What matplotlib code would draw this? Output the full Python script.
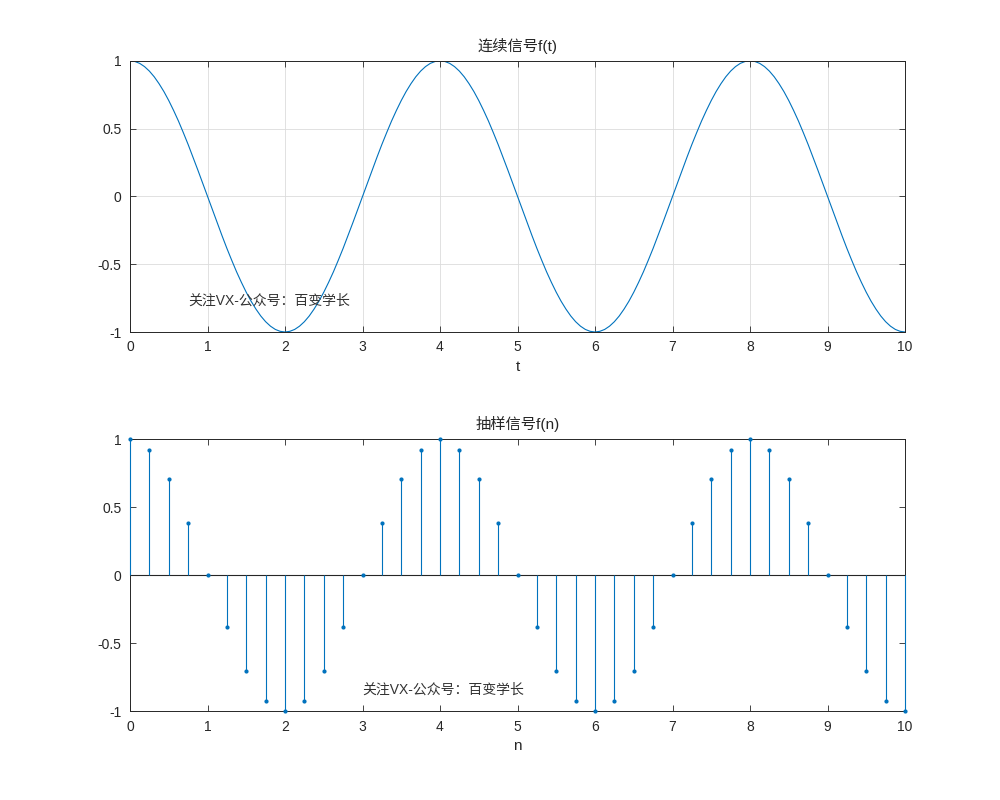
import numpy as np
import matplotlib
matplotlib.use("Agg")
import matplotlib.pyplot as plt

plt.rcParams["font.family"] = ["Liberation Sans", "Noto Sans CJK SC"]
plt.rcParams["axes.unicode_minus"] = False

# continuous signal, read every 0.0625 along t
t_cont = np.arange(0, 10.0001, 0.0625)
f_cont = [
    1, 0.995, 0.981, 0.957, 0.924, 0.882, 0.831, 0.773, 0.707, 0.634, 0.556, 0.471, 0.383, 0.290, 0.195, 0.098,
    0, -0.098, -0.195, -0.290, -0.383, -0.471, -0.556, -0.634, -0.707, -0.773, -0.831, -0.882, -0.924, -0.957, -0.981, -0.995,
    -1, -0.995, -0.981, -0.957, -0.924, -0.882, -0.831, -0.773, -0.707, -0.634, -0.556, -0.471, -0.383, -0.290, -0.195, -0.098,
    0, 0.098, 0.195, 0.290, 0.383, 0.471, 0.556, 0.634, 0.707, 0.773, 0.831, 0.882, 0.924, 0.957, 0.981, 0.995,
    1, 0.995, 0.981, 0.957, 0.924, 0.882, 0.831, 0.773, 0.707, 0.634, 0.556, 0.471, 0.383, 0.290, 0.195, 0.098,
    0, -0.098, -0.195, -0.290, -0.383, -0.471, -0.556, -0.634, -0.707, -0.773, -0.831, -0.882, -0.924, -0.957, -0.981, -0.995,
    -1, -0.995, -0.981, -0.957, -0.924, -0.882, -0.831, -0.773, -0.707, -0.634, -0.556, -0.471, -0.383, -0.290, -0.195, -0.098,
    0, 0.098, 0.195, 0.290, 0.383, 0.471, 0.556, 0.634, 0.707, 0.773, 0.831, 0.882, 0.924, 0.957, 0.981, 0.995,
    1, 0.995, 0.981, 0.957, 0.924, 0.882, 0.831, 0.773, 0.707, 0.634, 0.556, 0.471, 0.383, 0.290, 0.195, 0.098,
    0, -0.098, -0.195, -0.290, -0.383, -0.471, -0.556, -0.634, -0.707, -0.773, -0.831, -0.882, -0.924, -0.957, -0.981, -0.995,
    -1,
]

# sampled signal, every 0.25
n_samp = np.arange(0, 10.0001, 0.25)
f_samp = [
    1, 0.924, 0.707, 0.383, 0, -0.383, -0.707, -0.924,
    -1, -0.924, -0.707, -0.383, 0, 0.383, 0.707, 0.924,
    1, 0.924, 0.707, 0.383, 0, -0.383, -0.707, -0.924,
    -1, -0.924, -0.707, -0.383, 0, 0.383, 0.707, 0.924,
    1, 0.924, 0.707, 0.383, 0, -0.383, -0.707, -0.924,
    -1,
]

x_ticks = list(range(0, 11))
y_ticks = [-1, -0.5, 0, 0.5, 1]
y_labels = ["-1", "-0.5", "0", "0.5", "1"]
note = "关注VX-公众号：百变学长"

BLUE = "#0072BD"
AXC = "#262626"


def style_axes(ax):
    ax.set_xlim(0, 10)
    ax.set_ylim(-1, 1)
    ax.set_xticks(x_ticks)
    ax.set_yticks(y_ticks)
    ax.set_yticklabels(y_labels)
    ax.tick_params(direction="in", top=True, right=True, length=4,
                   width=0.6, colors=AXC, labelsize=10, pad=6)
    for s in ax.spines.values():
        s.set_color(AXC)
        s.set_linewidth(0.7)


fig = plt.figure(figsize=(10, 8), dpi=100)

ax1 = fig.add_axes([0.13, 0.585, 0.775, 0.339])
ax1.plot(t_cont, f_cont, color=BLUE, lw=0.8)
style_axes(ax1)
ax1.grid(True, color="#dcdcdc", lw=0.6)
ax1.set_axisbelow(True)
ax1.set_title("连续信号f(t)", fontsize=11, color=AXC, pad=7)
ax1.set_xlabel("t", fontsize=11, color=AXC, labelpad=4)
ax1.text(0.75, -0.77, note, fontsize=10, color="#333333", va="center")

ax2 = fig.add_axes([0.13, 0.111, 0.775, 0.34])
ml, sl, bl = ax2.stem(n_samp, f_samp, basefmt="k-")
plt.setp(bl, color=AXC, lw=0.8, zorder=2)
plt.setp(sl, color=BLUE, lw=0.8, clip_on=False, zorder=3)
plt.setp(ml, color=BLUE, markersize=2, clip_on=False, zorder=4)
style_axes(ax2)
ax2.set_title("抽样信号f(n)", fontsize=11, color=AXC, pad=7)
ax2.set_xlabel("n", fontsize=11, color=AXC, labelpad=4)
ax2.text(3, -0.84, note, fontsize=10, color="#333333", va="center")

fig.savefig("out.png", dpi=100)
